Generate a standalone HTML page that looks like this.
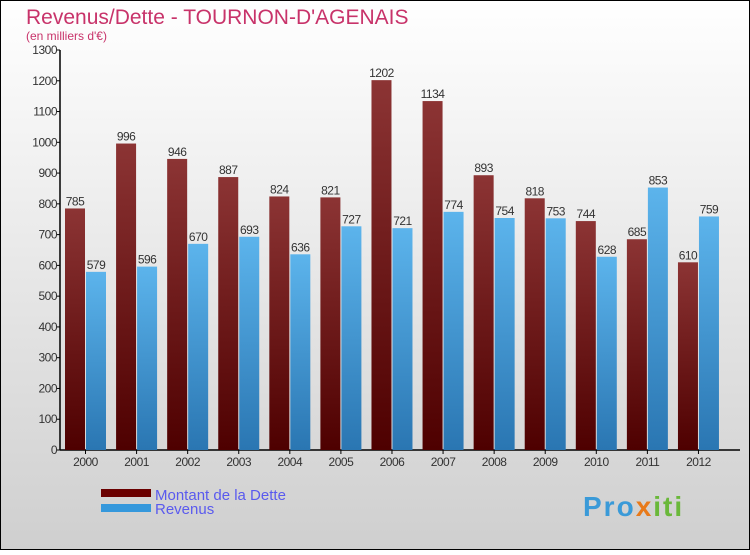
<!DOCTYPE html>
<html><head><meta charset="utf-8"><style>
html,body{margin:0;padding:0}
body{width:750px;height:550px;overflow:hidden;font-family:"Liberation Sans","DejaVu Sans",sans-serif}
</style></head><body>
<svg id="chart" width="750" height="550" xmlns="http://www.w3.org/2000/svg">
<defs>
<linearGradient id="bg" x1="0" y1="0" x2="0" y2="1"><stop offset="0" stop-color="#ffffff"/><stop offset="1" stop-color="#cfcfcf"/></linearGradient>
<linearGradient id="gd" x1="0" y1="0" x2="0" y2="1"><stop offset="0" stop-color="#8c3434"/><stop offset="1" stop-color="#4e0000"/></linearGradient>
<linearGradient id="gr" x1="0" y1="0" x2="0" y2="1"><stop offset="0" stop-color="#5cb4ec"/><stop offset="1" stop-color="#2a76b2"/></linearGradient>
</defs>
<rect x="0.5" y="0.5" width="749" height="549" fill="url(#bg)" stroke="#000"/>
<text x="26" y="24" font-size="21" fill="#c8336a">Revenus/Dette - TOURNON-D'AGENAIS</text>
<text x="26" y="40" font-size="12" fill="#c8336a">(en milliers d'€)</text>
<g id="axes"></g>
<g id="bars"></g>
<g>
<rect x="101" y="489" width="50" height="8" fill="#6a0000"/>
<text x="155" y="500" font-size="15" fill="#5a5aee">Montant de la Dette</text>
<rect x="101" y="504" width="50" height="8" fill="#3598dc"/>
<text x="155" y="514" font-size="15" fill="#5a5aee">Revenus</text>
</g>
<text x="583" y="516" font-size="28" font-weight="bold" letter-spacing="2" fill="#3a9ad8">Pro<tspan fill="#e87a1a">x</tspan><tspan fill="#6ab83a">iti</tspan></text>
</svg>
<script>
const years=["2000","2001","2002","2003","2004","2005","2006","2007","2008","2009","2010","2011","2012"];
const dette=[785,996,946,887,824,821,1202,1134,893,818,744,685,610];
const revenus=[579,596,670,693,636,727,721,774,754,753,628,853,759];
const yTicks=[0,100,200,300,400,500,600,700,800,900,1000,1100,1200,1300];
const NS="http://www.w3.org/2000/svg";
const x0=60,yb=450,yt=50,ymax=1300,gw=51.08;
const y=v=>yb-(yb-yt)*v/ymax;
const gx=i=>x0+5+i*gw;
function mk(p,t,a,txt){const e=document.createElementNS(NS,t);for(const k in a)e.setAttribute(k,a[k]);if(txt!=null)e.textContent=txt;p.appendChild(e);return e;}
const ax=document.getElementById('axes'),bg=document.getElementById('bars');
yTicks.forEach(v=>{
 const l=mk(ax,'line',{x1:x0-4,x2:x0,y1:y(v),y2:y(v),stroke:'#000'});
 
 
 const t=mk(ax,'text',{x:x0-3,y:y(v)+4,'font-size':12,'text-anchor':'end',fill:'#333','letter-spacing':'-0.5'},v);
 
 
});
years.forEach((yr,i)=>{
 const c=gx(i)+20.5;
 const l=mk(ax,'line',{x1:c,x2:c,y1:yb,y2:yb+4,stroke:'#000'});
 
 
 const t=mk(ax,'text',{x:c,y:yb+16,'font-size':12,'text-anchor':'middle',fill:'#333','letter-spacing':'-0.5'},yr);
 
 
 const b1=mk(bg,'rect',{x:gx(i),y:y(dette[i]),width:20,height:yb-y(dette[i]),fill:'url(#gd)'});
 
 
 const b2=mk(bg,'rect',{x:gx(i)+21,y:y(revenus[i]),width:20,height:yb-y(revenus[i]),fill:'url(#gr)'});
 
 
 const v1=mk(bg,'text',{x:gx(i)+10,y:y(dette[i])-3,'font-size':12,'text-anchor':'middle',fill:'#333','letter-spacing':'-0.5'},dette[i]);
 
 
 const v2=mk(bg,'text',{x:gx(i)+31,y:y(revenus[i])-3,'font-size':12,'text-anchor':'middle',fill:'#333','letter-spacing':'-0.5'},revenus[i]);
 
 
});
const ya=mk(ax,'line',{x1:x0,x2:x0,y1:yt,y2:yb,stroke:'#000','stroke-width':1.5});


const xa=mk(ax,'line',{x1:x0,x2:740,y1:yb,y2:yb,stroke:'#000','stroke-width':1.5});


</script>
</body></html>
